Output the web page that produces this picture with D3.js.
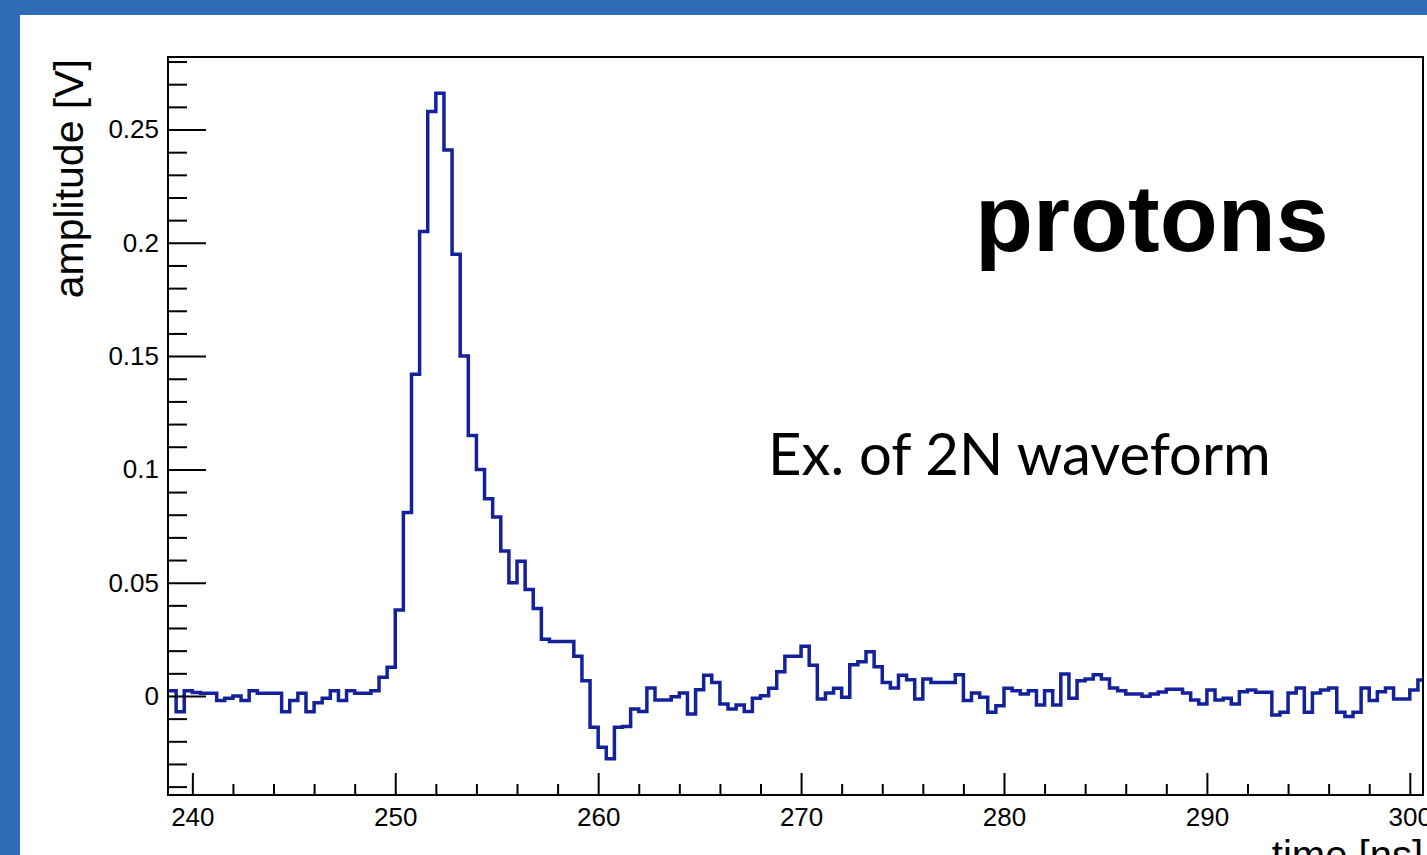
<!DOCTYPE html>
<html>
<head>
<meta charset="utf-8">
<script src="https://cdn.jsdelivr.net/npm/d3@7"></script>
<style>
  html, body { margin: 0; padding: 0; background: #2e6db6; overflow: hidden; }
  svg { display: block; }
</style>
</head>
<body>
<svg id="chart" width="1427" height="855"></svg>
<script>
// ---- data ----
const binStart = 238.8;   // ns, left edge of first bin
const binWidth = 0.4;     // ns
const amplitude = [
  0.0023, -0.007, 0.0023, 0.0015, 0.0012, 0.0012, -0.002, -0.001, 0.0, -0.002,
  0.0023, 0.0012, 0.0012, 0.0012, -0.007, -0.002, 0.0012, -0.007, -0.003, -0.001,
  0.0023, -0.002, 0.0023, 0.0012, 0.0012, 0.0023, 0.0083, 0.0127, 0.038, 0.081,
  0.142, 0.205, 0.258, 0.266, 0.241, 0.195, 0.150, 0.115, 0.100, 0.087,
  0.079, 0.064, 0.050, 0.0595, 0.047, 0.0386, 0.025, 0.024, 0.024, 0.024,
  0.0175, 0.0067, -0.0138, -0.0226, -0.0277, -0.0138, -0.0135, -0.0057, -0.0069, 0.0035,
  -0.0018, -0.0018, -0.0003, 0.0013, -0.0079, 0.0028, 0.0092, 0.006, -0.0035, -0.0057,
  -0.004, -0.0069, -0.001, 0.0001, 0.0034, 0.0107, 0.0175, 0.0175, 0.0219, 0.0136,
  -0.0013, 0.0013, 0.0034, -0.0006, 0.0138, 0.0151, 0.0195, 0.0129, 0.006, 0.0035,
  0.0092, 0.0072, -0.0013, 0.0075, 0.006, 0.006, 0.006, 0.0094, -0.002, 0.0013,
  -0.0006, -0.0072, -0.0043, 0.0034, 0.0023, 0.0009, 0.0023, -0.004, 0.0023, -0.004,
  0.0097, -0.001, 0.0067, 0.0075, 0.0094, 0.0075, 0.0035, 0.0023, 0.0009, 0.0009,
  -0.0001, 0.0009, 0.0018, 0.003, 0.003, 0.0013, -0.0018, -0.0035, 0.0026, -0.0018,
  -0.001, -0.0035, 0.0019, 0.0026, 0.0016, 0.0016, -0.0084, -0.0072, 0.0013, 0.0035,
  -0.0072, 0.0013, 0.0026, 0.0035, -0.0072, -0.0091, -0.0072, 0.0035, -0.002, 0.0019,
  0.0035, -0.0013, -0.0013, 0.0026, 0.007
];
const xDomain = [238.8, 300.65];
const yDomain = [-0.0437, 0.282];
const xMajorTicks = [240, 250, 260, 270, 280, 290, 300];
const xMinorTicks = [242, 244, 246, 248, 252, 254, 256, 258, 262, 264, 266, 268, 272, 274, 276, 278, 282, 284, 286, 288, 292, 294, 296, 298];
const yMajorTicks = [0, 0.05, 0.1, 0.15, 0.2, 0.25];
const yTickLabels = ["0", "0.05", "0.1", "0.15", "0.2", "0.25"];
const yMinorTicks = [-0.04, -0.03, -0.02, -0.01, 0.01, 0.02, 0.03, 0.04, 0.06, 0.07, 0.08, 0.09, 0.11, 0.12, 0.13, 0.14, 0.16, 0.17, 0.18, 0.19, 0.21, 0.22, 0.23, 0.24, 0.26, 0.27, 0.28];
const xTitle = "time [ns]";
const yTitle = "amplitude [V]";
const mainLabel = "protons";
const noteLabel = "Ex. of 2N waveform";

// ---- layout ----
const svg = d3.select("#chart");
const W = 1427, H = 855;
const frame = { left: 168, top: 57, right: 1423, bottom: 795 };

svg.append("rect").attr("x", 0).attr("y", 0).attr("width", W).attr("height", H).attr("fill", "#2e6db6");
svg.append("rect").attr("x", 20).attr("y", 15).attr("width", W - 20).attr("height", H - 15).attr("fill", "#ffffff");

const x = d3.scaleLinear().domain(xDomain).range([frame.left, frame.right]);
const y = d3.scaleLinear().domain(yDomain).range([frame.bottom, frame.top]);

const font = "'Liberation Sans', Arial, Helvetica, sans-serif";

// clip
svg.append("clipPath").attr("id", "plotclip")
  .append("rect").attr("x", frame.left).attr("y", frame.top)
  .attr("width", frame.right - frame.left).attr("height", frame.bottom - frame.top);

// histogram step line
const pts = amplitude.map((v, i) => [binStart + i * binWidth, v]);
pts.push([binStart + amplitude.length * binWidth, amplitude[amplitude.length - 1]]);
const line = d3.line().x(d => x(d[0])).y(d => y(d[1])).curve(d3.curveStepAfter);
svg.append("path")
  .attr("clip-path", "url(#plotclip)")
  .attr("d", line(pts))
  .attr("fill", "none")
  .attr("stroke", "#13229a")
  .attr("stroke-width", 3.5)
  .attr("stroke-linejoin", "miter");

// axes
const gx = svg.append("g").attr("transform", `translate(0,${frame.bottom})`);
gx.call(d3.axisBottom(x).tickValues(xMajorTicks).tickSizeInner(-22).tickSizeOuter(0).tickPadding(13).tickFormat(d3.format("d")));
const gxm = svg.append("g").attr("transform", `translate(0,${frame.bottom})`);
gxm.call(d3.axisBottom(x).tickValues(xMinorTicks).tickSizeInner(-11).tickSizeOuter(0).tickFormat(""));

const gy = svg.append("g").attr("transform", `translate(${frame.left},0)`);
gy.call(d3.axisLeft(y).tickValues(yMajorTicks).tickSizeInner(-38).tickSizeOuter(0).tickPadding(9)
  .tickFormat((d, i) => yTickLabels[i]));
const gym = svg.append("g").attr("transform", `translate(${frame.left},0)`);
gym.call(d3.axisLeft(y).tickValues(yMinorTicks).tickSizeInner(-19).tickSizeOuter(0).tickFormat(""));

[gx, gxm, gy, gym].forEach(g => {
  g.select(".domain").remove();
  g.selectAll(".tick line").attr("stroke", "#000").attr("stroke-width", 2);
  g.selectAll(".tick text").attr("fill", "#000").style("font-family", font).style("font-size", "26px");
});

// frame
svg.append("rect")
  .attr("x", frame.left).attr("y", frame.top)
  .attr("width", frame.right - frame.left).attr("height", frame.bottom - frame.top)
  .attr("fill", "none").attr("stroke", "#000").attr("stroke-width", 2);

// axis titles
svg.append("text")
  .attr("transform", `translate(83,${frame.top + 2}) rotate(-90)`)
  .attr("text-anchor", "end")
  .style("font-family", font).style("font-size", "41px")
  .attr("fill", "#000")
  .text(yTitle);
svg.append("text")
  .attr("x", frame.right).attr("y", 869)
  .attr("text-anchor", "end")
  .style("font-family", font).style("font-size", "40px")
  .attr("fill", "#000")
  .text(xTitle);

// annotations
svg.append("text")
  .attr("x", 975).attr("y", 251)
  .style("font-family", font).style("font-size", "95px").style("font-weight", "bold")
  .attr("fill", "#000")
  .text(mainLabel);
svg.append("text")
  .attr("x", 768).attr("y", 475)
  .style("font-family", "Lato, 'Open Sans', sans-serif").style("font-size", "58px")
  .attr("fill", "#000")
  .text(noteLabel);
</script>
</body>
</html>
